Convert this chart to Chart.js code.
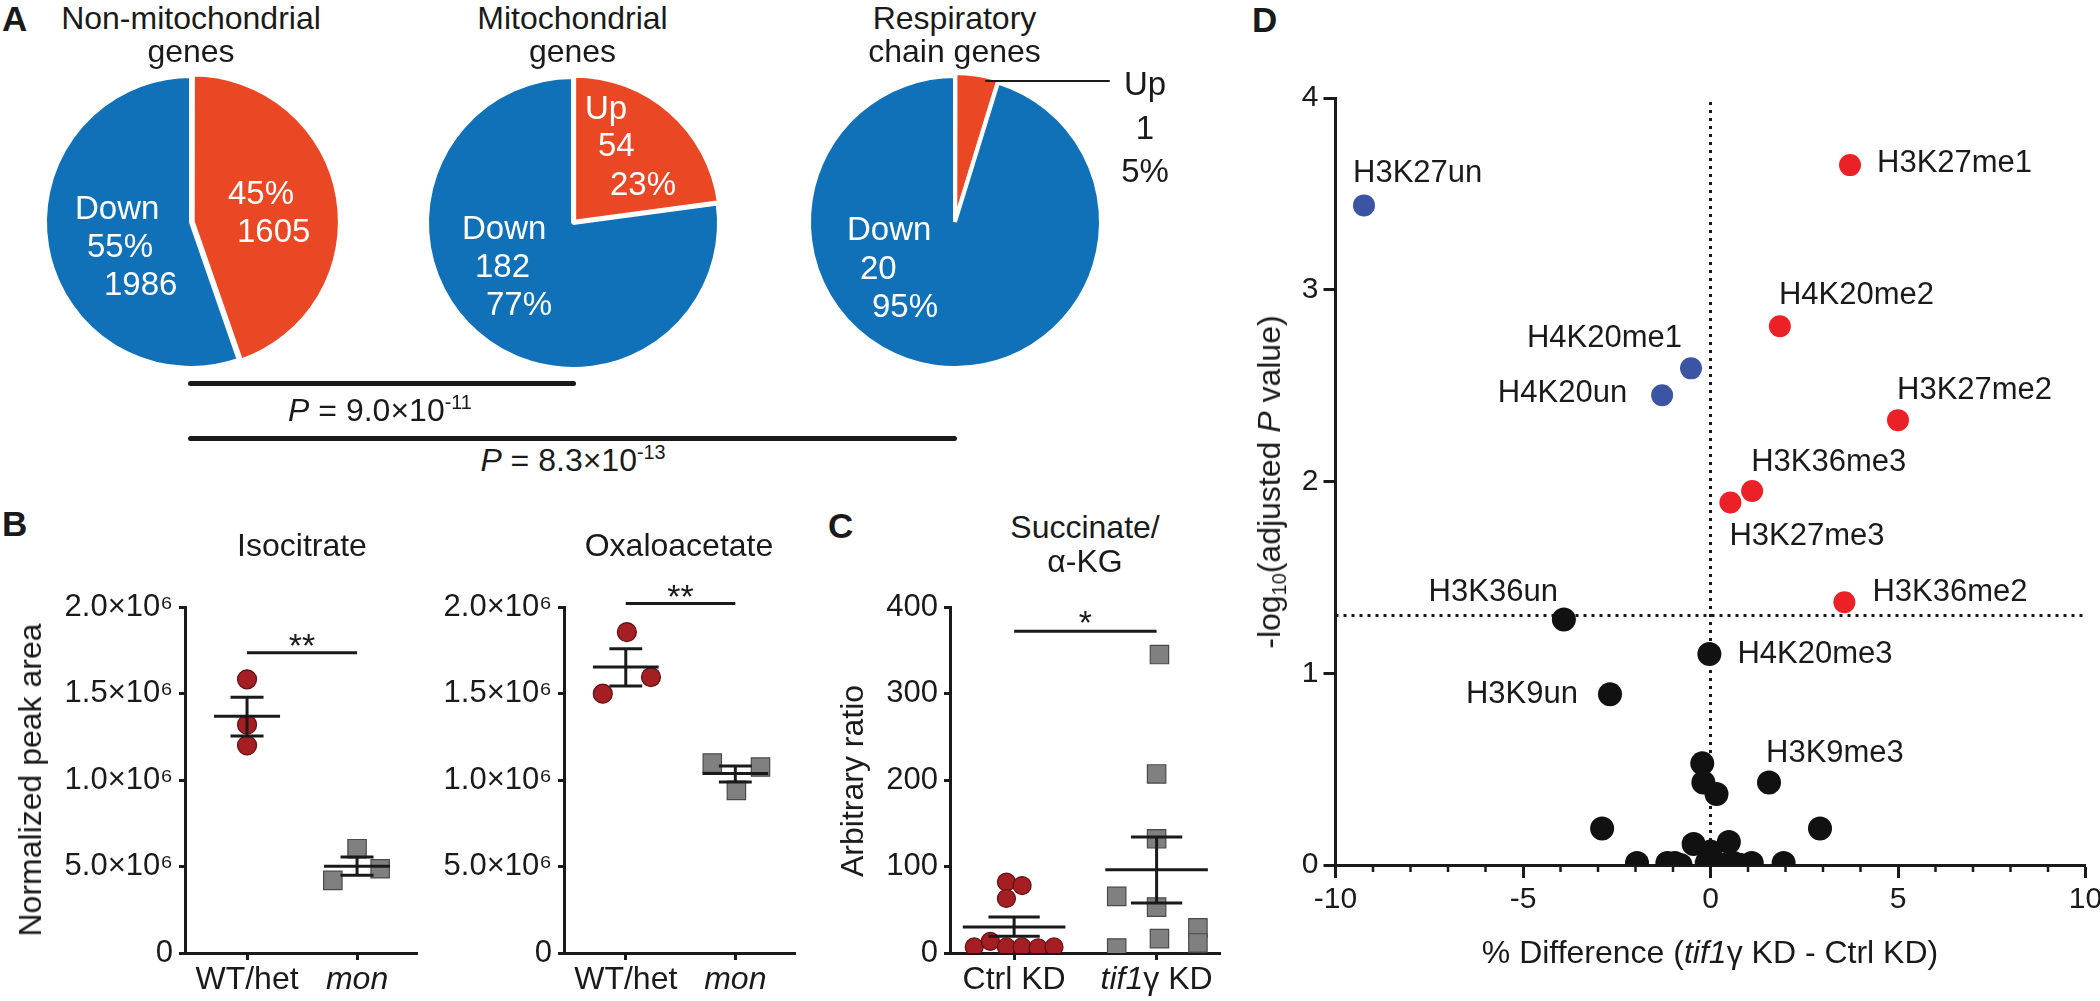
<!DOCTYPE html>
<html>
<head>
<meta charset="utf-8">
<script src="https://cdn.jsdelivr.net/npm/chart.js@4.4.1/dist/chart.umd.min.js"></script>
<style>
html,body{margin:0;padding:0;background:#fff;overflow:hidden;}
#fig{position:relative;width:2100px;height:1001px;overflow:hidden;background:#fff;
  font-family:'Liberation Sans',Arial,sans-serif;color:#1a1a1a;}
#fig canvas{position:absolute;}
.t{position:absolute;white-space:nowrap;font-size:32px;line-height:1;}
.c{transform:translate(-50%,-50%);}
.l{transform:translate(0,-50%);}
.rot{transform:translate(-50%,-50%) rotate(-90deg);}
.letter{font-weight:bold;font-size:35px;font-family:'Liberation Sans Narrow','Liberation Sans',Arial,sans-serif;}
.w{color:#fff;font-size:33px;}
.bar{position:absolute;background:#1a1a1a;}
sup{font-size:62%;vertical-align:0.62em;line-height:0;}
sub{font-size:62%;vertical-align:-0.3em;line-height:0;}
</style>
</head>
<body>
<div id="fig"></div>
<script>
// ================= DATA =================
// Panel A: pies
const pieTitles = [['Non-mitochondrial', 'genes'], ['Mitochondrial', 'genes'], ['Respiratory', 'chain genes']];
const upCounts = [1605, 54, 1];
const downCounts = [1986, 182, 20];
const upPercents = [45, 23, 5];
const downPercents = [55, 77, 95];
const pMantissas = ['9.0', '8.3'];
const pExponents = ['-11', '-13'];

// Panel B: Isocitrate / Oxaloacetate
const genotypeCats = ['WT/het', 'mon'];
const bTickLabels = ['0', '5.0×10⁶', '1.0×10⁶', '1.5×10⁶', '2.0×10⁶'];
const isoWT = [1.582e6, 1.320e6, 1.200e6];
const isoMon = [0.420e6, 0.603e6, 0.487e6];
const isoMean = [1.368e6, 0.501e6];
const isoSemHigh = [1.478e6, 0.555e6];
const isoSemLow = [1.254e6, 0.449e6];
const isoSigLevel = 1.736e6;
const oxaWT = [1.855e6, 1.499e6, 1.595e6];
const oxaMon = [1.098e6, 0.940e6, 1.075e6];
const oxaMean = [1.653e6, 1.037e6];
const oxaSemHigh = [1.759e6, 1.081e6];
const oxaSemLow = [1.543e6, 0.988e6];
const oxaSigLevel = 2.02e6;
// horizontal scatter of the dots (category units)
const isoWTJitter = [0, 0, 0];
const isoMonJitter = [-0.22, 0, 0.21];
const oxaWTJitter = [0.01, -0.21, 0.23];
const oxaMonJitter = [-0.21, 0.01, 0.23];

// Panel C: Succinate / alpha-KG
const kdCats = ['Ctrl KD', 'tif1γ KD'];
const cTickLabels = ['0', '100', '200', '300', '400'];
const ctrlKD = [82, 78, 63, 7, 13.5, 7, 7, 6, 7];
const tifKD = [345, 207, 132, 53, 16.6, 65.5, 5.8, 29, 11.6];
const kdMean = [30, 96.3];
const kdSemHigh = [41.6, 134];
const kdSemLow = [19.3, 57.8];
const kdSigLevel = 372;
const ctrlJitter = [-0.054, 0.056, -0.054, -0.28, -0.167, -0.054, 0.056, 0.169, 0.28];
const tifJitter = [0.02, 0, 0, 0, 0.02, -0.28, -0.28, 0.29, 0.29];

// Panel D: volcano plot
const dXTickLabels = ['-10', '-5', '0', '5', '10'];
const dYTickLabels = ['0', '1', '2', '3', '4'];
const downMarks = ['H3K27un', 'H4K20me1', 'H4K20un'];
const downDiff = [-9.24, -0.52, -1.29];
const downLogP = [3.44, 2.59, 2.45];
const upMarks = ['H3K27me1', 'H4K20me2', 'H3K27me2', 'H3K36me3', 'H3K27me3', 'H3K36me2'];
const upDiff = [3.72, 1.85, 5.0, 1.11, 0.53, 3.57];
const upLogP = [3.65, 2.81, 2.32, 1.95, 1.89, 1.37];
const nsMarks = ['H3K36un', 'H4K20me3', 'H3K9un', 'H3K9me3', '', '', '', '', '', '', '', '', '', '', '', '', '', '', '', '', '', '', ''];
const nsDiff = [-3.91, -0.03, -2.68, 1.56, -0.22, -0.19, 0.16, -2.89, 2.92, -0.45, 0.49, 0.0, -1.96, -1.15, -0.95, -0.8, -0.1, 0.12, 0.35, 0.62, 0.8, 1.1, 1.95];
const nsLogP = [1.28, 1.10, 0.89, 0.43, 0.53, 0.43, 0.37, 0.19, 0.19, 0.11, 0.12, 0.07, 0.01, 0.01, 0.01, 0.0, 0.01, 0.0, 0.0, 0.01, 0.0, 0.01, 0.01];
const sigThreshold = 1.301;

// ================= STYLE / LAYOUT =================
const INK = '#1a1a1a';
const PIE_BLUE = '#1070B8';
const PIE_ORANGE = '#EA4824';
const DOT_RED = '#A41E23';
const DOT_RED_EDGE = '#5e1013';
const SQ_GRAY = '#808080';
const SQ_EDGE = '#4a4a4a';
const V_RED = '#EC2128';
const V_BLUE = '#3B55A4';
const FONT = "'Liberation Sans', Arial, sans-serif";

Chart.defaults.font.family = FONT;
Chart.defaults.color = INK;

const fig = document.getElementById('fig');
function addCanvas(left, top, w, h) {
  const c = document.createElement('canvas');
  c.width = w; c.height = h;
  c.style.left = left + 'px'; c.style.top = top + 'px';
  c.style.width = w + 'px'; c.style.height = h + 'px';
  fig.appendChild(c);
  return c;
}
function addText(html, x, y, cls, extra) {
  const d = document.createElement('div');
  d.className = 't ' + cls;
  d.innerHTML = html;
  d.style.left = x + 'px'; d.style.top = y + 'px';
  if (extra) Object.assign(d.style, extra);
  fig.appendChild(d);
  return d;
}
function addBar(x1, y, x2, h) {
  const b = document.createElement('div');
  b.className = 'bar';
  Object.assign(b.style, {left: x1 + 'px', top: (y - h / 2) + 'px', width: (x2 - x1) + 'px', height: h + 'px', borderRadius: (h / 2) + 'px'});
  fig.appendChild(b);
}

// panel letters
addText('A', 2, 18, 'l letter');
addText('B', 2, 523, 'l letter');
addText('C', 828, 525, 'l letter');
addText('D', 1252, 19, 'l letter');

// ================= PANEL A =================
const pieCenters = [[191, 222], [572.5, 222.5], [954.5, 222]];
const pieTitleY = [18, 51];
pieCenters.forEach((c, i) => {
  const size = 340;
  const cv = addCanvas(c[0] - size / 2, c[1] - size / 2, size, size);
  new Chart(cv, {
    type: 'pie',
    data: {labels: ['Up', 'Down'], datasets: [{
      data: [upCounts[i], downCounts[i]],
      backgroundColor: [PIE_ORANGE, PIE_BLUE],
      borderColor: '#ffffff', borderWidth: 4, offset: [7, 0]
    }]},
    options: {responsive: false, animation: false, devicePixelRatio: 1, radius: 146, rotation: 0,
      events: [], layout: {padding: 0},
      plugins: {legend: {display: false}, tooltip: {enabled: false}}}
  });
  pieTitles[i].forEach((line, k) => addText(line, c[0], pieTitleY[k], 'c'));
});
// slice labels (white, inside)
const sliceLabelLayout = [
  {up: [[228, 192], [237, 230]], down: [[75, 207], [87, 245], [104, 283]]},
  {up: [[585, 107], [598, 144], [610, 183]], down: [[462, 227], [475, 265], [486, 303]]},
  {down: [[847, 228], [860, 267], [872, 305]]}
];
const upText0 = [upPercents[0] + '%', String(upCounts[0])];
upText0.forEach((s, k) => addText(s, sliceLabelLayout[0].up[k][0], sliceLabelLayout[0].up[k][1], 'l w'));
['Down', downPercents[0] + '%', String(downCounts[0])].forEach((s, k) =>
  addText(s, sliceLabelLayout[0].down[k][0], sliceLabelLayout[0].down[k][1], 'l w'));
['Up', String(upCounts[1]), upPercents[1] + '%'].forEach((s, k) =>
  addText(s, sliceLabelLayout[1].up[k][0], sliceLabelLayout[1].up[k][1], 'l w'));
['Down', String(downCounts[1]), downPercents[1] + '%'].forEach((s, k) =>
  addText(s, sliceLabelLayout[1].down[k][0], sliceLabelLayout[1].down[k][1], 'l w'));
['Down', String(downCounts[2]), downPercents[2] + '%'].forEach((s, k) =>
  addText(s, sliceLabelLayout[2].down[k][0], sliceLabelLayout[2].down[k][1], 'l w'));
// outside label for the tiny slice
['Up', String(upCounts[2]), upPercents[2] + '%'].forEach((s, k) => addText(s, 1145, [83, 127, 170][k], 'c', {fontSize: '33px'}));
addBar(985, 81, 1110, 2.5);
// P-value brackets
addBar(187.5, 383, 576, 5);
addText('<i>P</i> = ' + pMantissas[0] + '×10<sup>' + pExponents[0] + '</sup>', 380, 410, 'c');
addBar(187.5, 438, 957, 5);
addText('<i>P</i> = ' + pMantissas[1] + '×10<sup>' + pExponents[1] + '</sup>', 573, 460, 'c');

// ================= PANELS B & C =================
function dotPlot(spec) {
  const cv = addCanvas(spec.left, spec.top, spec.w, spec.h);
  const datasets = [];
  spec.groups.forEach((g, i) => {
    datasets.push({type: 'scatter', order: 2,
      data: g.vals.map((v, k) => ({x: i + 1 + g.jit[k], y: v})),
      pointStyle: g.shape, pointRadius: g.r, pointHoverRadius: g.r,
      backgroundColor: g.fill, borderColor: g.edge, borderWidth: 1.2});
  });
  const seg = (x1, y1, x2, y2) => datasets.push({type: 'line', order: 1, clip: false,
    data: [{x: x1, y: y1}, {x: x2, y: y2}], borderColor: INK, borderWidth: 3,
    borderCapStyle: 'butt', pointRadius: 0, fill: false});
  spec.mean.forEach((m, i) => {
    const c = i + 1;
    seg(c - spec.meanHalf, m, c + spec.meanHalf, m);
    seg(c, spec.semLo[i], c, spec.semHi[i]);
    seg(c - spec.capHalf, spec.semLo[i], c + spec.capHalf, spec.semLo[i]);
    seg(c - spec.capHalf, spec.semHi[i], c + spec.capHalf, spec.semHi[i]);
  });
  seg(1, spec.sig, 2, spec.sig);

  const extras = {id: 'extras', afterDraw(chart) {
    const ctx = chart.ctx, xs = chart.scales.x, ys = chart.scales.y;
    ctx.save();
    ctx.fillStyle = INK;
    ctx.textBaseline = 'middle';
    ctx.textAlign = 'left';
    spec.catParts.forEach((parts, i) => {
      const cx = xs.getPixelForValue(i + 1);
      let total = 0;
      parts.forEach(p => { ctx.font = (p[1] ? 'italic ' : '') + '32px ' + FONT; total += ctx.measureText(p[0]).width; });
      let x = cx - total / 2;
      parts.forEach(p => { ctx.font = (p[1] ? 'italic ' : '') + '32px ' + FONT; ctx.fillText(p[0], x, xs.top + 27); x += ctx.measureText(p[0]).width; });
    });
    ctx.font = '34px ' + FONT;
    ctx.textAlign = 'center';
    ctx.textBaseline = 'alphabetic';
    ctx.fillText(spec.sigText, (xs.getPixelForValue(1) + xs.getPixelForValue(2)) / 2, ys.getPixelForValue(spec.sig) + spec.starDrop);
    ctx.restore();
  }};

  new Chart(cv, {
    type: 'scatter',
    data: {datasets},
    options: {responsive: false, animation: false, devicePixelRatio: 1, events: [],
      layout: {padding: {top: spec.padTop, right: spec.padRight, left: 0, bottom: 0}},
      plugins: {legend: {display: false}, tooltip: {enabled: false}},
      scales: {
        x: {type: 'linear', min: spec.xMin, max: spec.xMax,
          afterBuildTicks: s => { s.ticks = spec.catParts.map((p, i) => ({value: i + 1})); },
          afterFit: s => { s.height = spec.xHeight; },
          ticks: {color: 'rgba(0,0,0,0)', font: {size: 12}},
          grid: {display: true, drawOnChartArea: false, drawTicks: true, tickLength: 7, tickWidth: 3, tickColor: INK},
          border: {display: true, color: INK, width: 3}},
        y: {type: 'linear', min: 0, max: spec.yMax,
          afterFit: s => { s.width = spec.yWidth; },
          ticks: {stepSize: spec.yStep, padding: 6, color: INK, font: {size: 31},
            callback: (v, i) => spec.yLabels[i]},
          grid: {display: true, drawOnChartArea: false, drawTicks: true, tickLength: 6, tickWidth: 3, tickColor: INK},
          border: {display: true, color: INK, width: 3}}
      }},
    plugins: [extras]
  });
}

const circleStyle = {shape: 'circle', fill: DOT_RED, edge: DOT_RED_EDGE};
const squareStyle = {shape: 'rect', fill: SQ_GRAY, edge: SQ_EDGE};

dotPlot({left: 0, top: 560, w: 440, h: 441, padTop: 47, padRight: 23, yWidth: 185, xHeight: 48,
  xMin: 0.436, xMax: 2.545, yMax: 2e6, yStep: 0.5e6, yLabels: bTickLabels,
  catParts: [[[genotypeCats[0], false]], [[genotypeCats[1], true]]],
  groups: [Object.assign({vals: isoWT, jit: isoWTJitter, r: 9.5}, circleStyle),
           Object.assign({vals: isoMon, jit: isoMonJitter, r: 13}, squareStyle)],
  mean: isoMean, semHi: isoSemHigh, semLo: isoSemLow, meanHalf: 0.30, capHalf: 0.15,
  sig: isoSigLevel, sigText: '**', starDrop: 4});
addText('Isocitrate', 302, 545, 'c');
addText('Normalized peak area', 30, 780, 'rot');

dotPlot({left: 380, top: 560, w: 440, h: 441, padTop: 47, padRight: 25, yWidth: 184, xHeight: 48,
  xMin: 0.436, xMax: 2.545, yMax: 2e6, yStep: 0.5e6, yLabels: bTickLabels,
  catParts: [[[genotypeCats[0], false]], [[genotypeCats[1], true]]],
  groups: [Object.assign({vals: oxaWT, jit: oxaWTJitter, r: 9.5}, circleStyle),
           Object.assign({vals: oxaMon, jit: oxaMonJitter, r: 13}, squareStyle)],
  mean: oxaMean, semHi: oxaSemHigh, semLo: oxaSemLow, meanHalf: 0.30, capHalf: 0.15,
  sig: oxaSigLevel, sigText: '**', starDrop: 4});
addText('Oxaloacetate', 679, 545, 'c');

dotPlot({left: 770, top: 560, w: 470, h: 441, padTop: 47, padRight: 20, yWidth: 180, xHeight: 48,
  xMin: 0.55, xMax: 2.445, yMax: 400, yStep: 100, yLabels: cTickLabels,
  catParts: [[[kdCats[0], false]], [['tif1', true], ['γ KD', false]]],
  groups: [Object.assign({vals: ctrlKD, jit: ctrlJitter, r: 9}, circleStyle),
           Object.assign({vals: tifKD, jit: tifJitter, r: 13}, squareStyle)],
  mean: kdMean, semHi: kdSemHigh, semLo: kdSemLow, meanHalf: 0.36, capHalf: 0.18,
  sig: kdSigLevel, sigText: '*', starDrop: 3});
addText('Succinate/', 1085, 527, 'c');
addText('α-KG', 1085, 561, 'c');
addText('Arbitrary ratio', 852, 781, 'rot');

// ================= PANEL D =================
const labelLayout = {
  H3K27un: [-11, -32, 'left'], H3K27me1: [27, -2, 'left'], H4K20me2: [-1, -31, 'left'],
  H4K20me1: [-9, -30, 'right'], H4K20un: [-35, -2, 'right'], H3K27me2: [-1, -30, 'left'],
  H3K36me3: [-1, -29, 'left'], H3K27me3: [-1, 34, 'left'], H3K36me2: [28, -10, 'left'],
  H3K36un: [-6, -27, 'right'], H4K20me3: [28, 0, 'left'], H3K9un: [-32, 0, 'right'],
  H3K9me3: [-3, -29, 'left']
};
const toPts = (xs, ys) => xs.map((x, i) => ({x, y: ys[i]}));
const dCv = addCanvas(1230, 60, 900, 941);
const dExtras = {id: 'dExtras', afterDraw(chart) {
  const ctx = chart.ctx, xs = chart.scales.x, ys = chart.scales.y;
  ctx.save();
  // minor ticks
  ctx.strokeStyle = INK; ctx.lineWidth = 2.5;
  for (let v = -10; v <= 10; v++) {
    if (v % 5 === 0) continue;
    const px = xs.getPixelForValue(v);
    ctx.beginPath(); ctx.moveTo(px, ys.bottom); ctx.lineTo(px, ys.bottom + 7); ctx.stroke();
  }
  // point labels
  ctx.fillStyle = INK; ctx.font = '31px ' + FONT; ctx.textBaseline = 'middle';
  const put = (names, dx, dy) => names.forEach((n, i) => {
    const L = labelLayout[n]; if (!L) return;
    ctx.textAlign = L[2];
    ctx.fillText(n, xs.getPixelForValue(dx[i]) + L[0], ys.getPixelForValue(dy[i]) + L[1]);
  });
  put(downMarks, downDiff, downLogP);
  put(upMarks, upDiff, upLogP);
  put(nsMarks, nsDiff, nsLogP);
  ctx.restore();
}};
new Chart(dCv, {
  type: 'scatter',
  data: {datasets: [
    {type: 'line', order: 5, data: [{x: -10, y: sigThreshold}, {x: 10, y: sigThreshold}], borderColor: INK, borderWidth: 3, borderDash: [3, 5], pointRadius: 0, fill: false},
    {type: 'line', order: 5, data: [{x: 0, y: 0}, {x: 0, y: 4}], borderColor: INK, borderWidth: 3, borderDash: [3, 5], pointRadius: 0, fill: false},
    {order: 3, data: toPts(nsDiff, nsLogP), backgroundColor: '#111111', borderColor: '#111111', borderWidth: 0, pointRadius: 12},
    {order: 2, data: toPts(downDiff, downLogP), backgroundColor: V_BLUE, borderColor: V_BLUE, borderWidth: 0, pointRadius: 11},
    {order: 1, data: toPts(upDiff, upLogP), backgroundColor: V_RED, borderColor: V_RED, borderWidth: 0, pointRadius: 11}
  ]},
  options: {responsive: false, animation: false, devicePixelRatio: 1, events: [],
    layout: {padding: {top: 38, right: 44.5, left: 0, bottom: 0}},
    plugins: {legend: {display: false}, tooltip: {enabled: false}},
    scales: {
      x: {type: 'linear', min: -10, max: 10,
        afterFit: s => { s.height = 136; },
        ticks: {stepSize: 5, padding: 4, color: INK, font: {size: 30}, callback: (v, i) => dXTickLabels[i]},
        grid: {display: true, drawOnChartArea: false, drawTicks: true, tickLength: 13, tickWidth: 3, tickColor: INK},
        border: {display: true, color: INK, width: 3}},
      y: {type: 'linear', min: 0, max: 4,
        afterFit: s => { s.width = 105.5; },
        ticks: {stepSize: 1, padding: 5, color: INK, font: {size: 30}, callback: (v, i) => dYTickLabels[i]},
        grid: {display: true, drawOnChartArea: false, drawTicks: true, tickLength: 12, tickWidth: 3, tickColor: INK},
        border: {display: true, color: INK, width: 3}}
    }},
  plugins: [dExtras]
});
addText('-log<sub>10</sub>(adjusted <i>P</i> value)', 1269, 482, 'rot');
addText('% Difference (<i>tif1</i>γ KD - Ctrl KD)', 1710, 952, 'c');
</script>
</body>
</html>
